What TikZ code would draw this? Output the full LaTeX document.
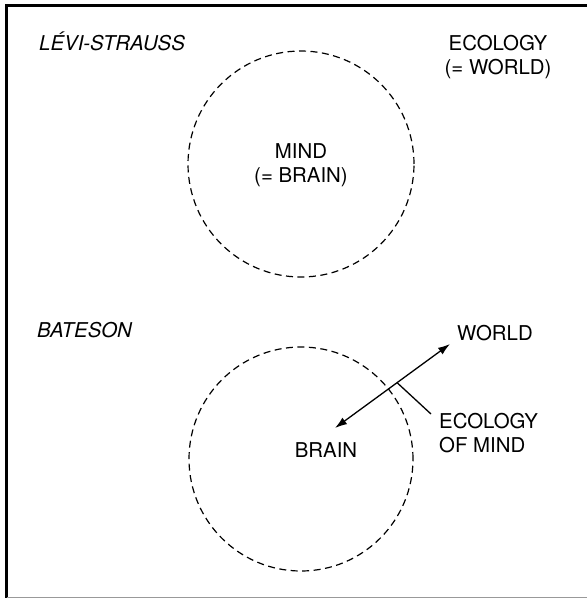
\documentclass[tikz,border=0pt]{standalone}
\usepackage{fontspec}
\setmainfont{TeX Gyre Heros}
\usetikzlibrary{arrows.meta}
\begin{document}
\begin{tikzpicture}[x=1pt,y=-1pt,
  lbl/.style={inner sep=0pt,font=\fontsize{20.4}{24}\selectfont},
  ilbl/.style={lbl,font=\fontsize{20.4}{24}\selectfont\itshape},
  dcircle/.style={draw,dash pattern=on 7pt off 4.5pt,line width=1.2pt},
  conn/.style={line width=1.3pt},
  frame/.style={line width=2.5pt,line cap=rect}]
\useasboundingbox (0,0) rectangle (587,598);
% frame (cropped)
\draw[frame] (6.5,600) -- (6.5,5.5) -- (590,5.5);
\draw[line width=1.5pt,gray!80] (6.5,597.5) -- (590,597.5);
% circles
\node[dcircle,circle,minimum size=226pt,inner sep=0pt] (c1) at (301,164) {};
\node[dcircle,circle,minimum size=224pt,inner sep=0pt] (c2) at (301,459) {};
% labels
\node[ilbl,anchor=base west] (ls) at (39,50) {LÉVI-STRAUSS};
\node[lbl,anchor=base,align=center] (eco) at (498,74) {ECOLOGY\\(= WORLD)};
\node[lbl,anchor=base,align=center] (mind) at (301,182) {MIND\\(= BRAIN)};
\node[ilbl,anchor=base west] (bat) at (37,337) {BATESON};
\node[lbl,anchor=base west] (world) at (457,340) {WORLD};
\node[lbl,anchor=base] (brain) at (326,457) {BRAIN};
\node[lbl,anchor=base west,align=left] (ecomind) at (439,452) {ECOLOGY\\OF MIND};
% arrow
\coordinate (a1) at (335,428);
\coordinate (a2) at (450,344);
\draw[conn,{Latex[length=12pt,width=8pt]}-{Latex[length=12pt,width=8pt]}] (a1) -- (a2);
\coordinate (m) at (397,382.6);
\coordinate (lead) at (431,414);
\draw[conn] (m) -- (lead);
\end{tikzpicture}
\end{document}
